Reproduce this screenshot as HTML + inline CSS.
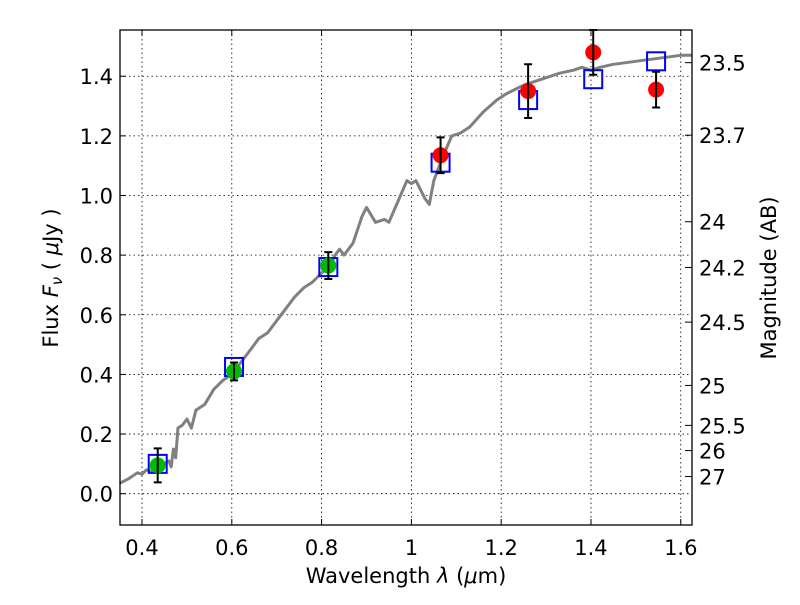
<!DOCTYPE html>
<html><head><meta charset="utf-8"><style>
html,body{margin:0;padding:0;background:#fff;}
svg{font-family:"DejaVu Sans","Liberation Sans",sans-serif;}
</style></head><body>
<svg id="chart" width="800" height="600" viewBox="0 0 800 600" xmlns="http://www.w3.org/2000/svg">
<rect width="800" height="600" fill="#fff"/>
<g id="grid"></g>
<g id="spec"></g>
<g id="marks"></g>
<rect x="120" y="30" width="572" height="495" fill="none" stroke="#000" stroke-width="1.3"/>
<g id="axes" font-size="21" fill="#000"></g>
<text x="406" y="583" font-size="21" text-anchor="middle">Wavelength  <tspan font-style="italic">λ</tspan> (<tspan font-style="italic">μ</tspan>m)</text>
<text transform="translate(58,278) rotate(-90)" font-size="21" text-anchor="middle">Flux  <tspan font-style="italic">F</tspan><tspan font-style="italic" font-size="15" dy="4">ν</tspan><tspan dy="-4">  ( </tspan><tspan font-style="italic">μ</tspan>Jy )</text>
<text transform="translate(776,278) rotate(-90)" font-size="21" text-anchor="middle">Magnitude (AB)</text>
</svg>
<script>
const xTicks=[0.4,0.6,0.8,1.0,1.2,1.4,1.6];
const xTickLabels=["0.4","0.6","0.8","1","1.2","1.4","1.6"];
const yTicks=[0,0.2,0.4,0.6,0.8,1.0,1.2,1.4];
const yTickLabels=["0.0","0.2","0.4","0.6","0.8","1.0","1.2","1.4"];
const magTicks=[23.5,23.7,24,24.2,24.5,25,25.5,26,27];
const obsWave=[0.435,0.605,0.815,1.065,1.26,1.405,1.545];
const obsFlux=[0.095,0.41,0.765,1.135,1.35,1.48,1.355];
const obsErr=[0.057,0.03,0.045,0.06,0.09,0.075,0.06];
const obsColor=["#00bb00","#00bb00","#00bb00","#ff0000","#ff0000","#ff0000","#ff0000"];
const modelFlux=[0.1,0.425,0.76,1.11,1.32,1.39,1.45];
const specWave=[0.35,0.37,0.38,0.39,0.40,0.41,0.42,0.43,0.45,0.46,0.465,0.47,0.475,0.48,0.49,0.5,0.51,0.52,0.54,0.56,0.58,0.6,0.62,0.64,0.66,0.68,0.7,0.72,0.74,0.76,0.78,0.8,0.82,0.83,0.84,0.85,0.87,0.89,0.9,0.92,0.94,0.95,0.97,0.99,1.0,1.01,1.03,1.04,1.05,1.07,1.09,1.11,1.13,1.16,1.19,1.21,1.25,1.29,1.33,1.36,1.38,1.40,1.42,1.45,1.5,1.55,1.6,1.625];
const specFlux=[0.035,0.05,0.06,0.07,0.065,0.08,0.075,0.09,0.1,0.11,0.09,0.15,0.12,0.22,0.23,0.25,0.22,0.28,0.3,0.35,0.38,0.40,0.44,0.48,0.52,0.54,0.58,0.62,0.66,0.69,0.71,0.74,0.77,0.80,0.82,0.80,0.84,0.93,0.96,0.91,0.92,0.91,0.98,1.05,1.04,1.05,0.99,0.97,1.05,1.13,1.2,1.21,1.23,1.28,1.32,1.34,1.37,1.39,1.41,1.42,1.43,1.42,1.43,1.44,1.45,1.46,1.47,1.47];

const NS="http://www.w3.org/2000/svg";
const X0=120,X1=692,Y0=30,Y1=525,XMIN=0.351,XMAX=1.625,YMIN=-0.105,YMAX=1.555;
function sx(v){return X0+(v-XMIN)/(XMAX-XMIN)*(X1-X0);}
function sy(v){return Y1-(v-YMIN)/(YMAX-YMIN)*(Y1-Y0);}
function mk(tag,attrs,parent){const e=document.createElementNS(NS,tag);for(const k in attrs)e.setAttribute(k,attrs[k]);parent.appendChild(e);return e;}
const grid=document.getElementById('grid'),axes=document.getElementById('axes'),spec=document.getElementById('spec'),marks=document.getElementById('marks');
xTicks.forEach((t,i)=>{
  const x=sx(t);
  const g=mk('line',{x1:x,x2:x,y1:Y0,y2:Y1,stroke:'#000','stroke-width':0.8,'stroke-dasharray':'1.5,3'},grid);
  
  
  mk('line',{x1:x,x2:x,y1:Y1,y2:Y1-6,stroke:'#000'},axes);
  mk('line',{x1:x,x2:x,y1:Y0,y2:Y0+6,stroke:'#000'},axes);
  const tx=mk('text',{x:x,y:555,'text-anchor':'middle'},axes);tx.textContent=xTickLabels[i];
  
  
});
yTicks.forEach((t,i)=>{
  const y=sy(t);
  const g=mk('line',{x1:X0,x2:X1,y1:y,y2:y,stroke:'#000','stroke-width':0.8,'stroke-dasharray':'1.5,3'},grid);
  
  
  mk('line',{x1:X0,x2:X0+6,y1:y,y2:y,stroke:'#000'},axes);
  const tx=mk('text',{x:113,y:y+8,'text-anchor':'end'},axes);tx.textContent=yTickLabels[i];
  
  
});
magTicks.forEach(m=>{
  const f=Math.pow(10,(23.9-m)/2.5);const y=sy(f);
  mk('line',{x1:X1-7,x2:X1,y1:y,y2:y,stroke:'#000'},axes);
  const tx=mk('text',{x:699,y:y+8},axes);tx.textContent=String(m);
  
  
});
let d='';specWave.forEach((w,i)=>{d+=(i?'L':'M')+sx(w).toFixed(1)+','+sy(specFlux[i]).toFixed(1);});
const p=mk('path',{d:d,fill:'none',stroke:'#808080','stroke-width':3,'stroke-linejoin':'round'},spec);


obsWave.forEach((w,i)=>{
  const x=sx(w);
  const s=mk('rect',{x:x-9,y:sy(modelFlux[i])-9,width:18,height:18,fill:'none',stroke:'#0000ff','stroke-width':2},marks);
  
  
});
obsWave.forEach((w,i)=>{
  const x=sx(w),y=sy(obsFlux[i]);
  const c=mk('circle',{cx:x,cy:y,r:8,fill:obsColor[i]},marks);
  
  
  const t=Math.max(sy(obsFlux[i]+obsErr[i]),Y0),b=sy(obsFlux[i]-obsErr[i]);
  const e=mk('path',{d:`M${x},${t}L${x},${b}M${x-4},${t}L${x+4},${t}M${x-4},${b}L${x+4},${b}`,stroke:'#000','stroke-width':2,fill:'none'},marks);
  
  
});
</script>
</body></html>
